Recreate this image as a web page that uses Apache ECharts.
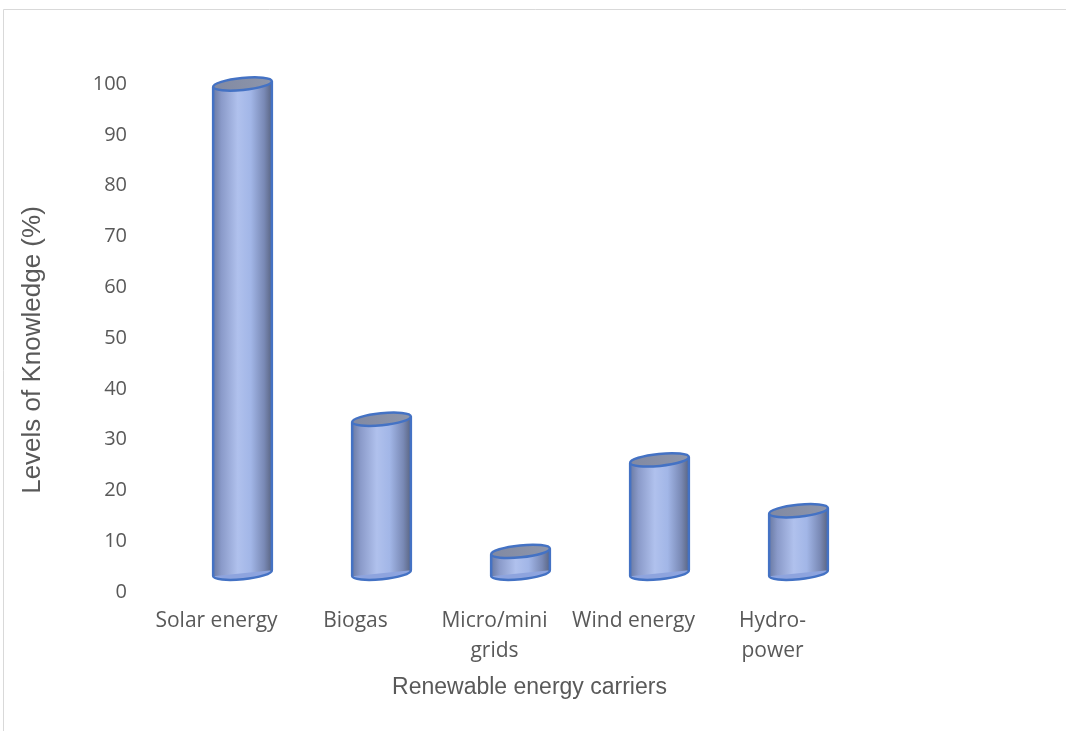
<!DOCTYPE html>
<html>
<head>
<meta charset="utf-8">
<title>Levels of Knowledge by Renewable Energy Carrier</title>
<script src="https://cdn.jsdelivr.net/npm/echarts@6/dist/echarts.min.js"></script>
<style>
  html, body { margin: 0; padding: 0; background: #ffffff; }
  #chart { width: 1066px; height: 731px; }
</style>
</head>
<body>
<div id="chart"></div>
<script>
// Renewable energy carriers and the share of respondents who know them (%)
const categories = ['Solar energy', 'Biogas', 'Micro/mini\ngrids', 'Wind energy', 'Hydro-\npower'];
const knowledge = [100, 34, 8, 26, 16];
const yMin = 0;
const yMax = 100;
const yStep = 10;

// Cylinder look: floor of the 3D box (axis units), perspective shift, radii, tilt
const FLOOR = 3.7;
const DEPTH_SHIFT = 26;
const RX = 29.5;
const RY = 6;
const TILT = 0.1;
const EDGE = '#4472c4';
const TEXT = '#595959';

const chart = echarts.init(document.getElementById('chart'), null, { renderer: 'canvas' });

function bodyFill() {
  return new echarts.graphic.LinearGradient(0, 0, 1, 0, [
    { offset: 0.00, color: '#6a7aa3' },
    { offset: 0.14, color: '#8a9ac9' },
    { offset: 0.42, color: '#b0c1ed' },
    { offset: 0.64, color: '#a2b6e7' },
    { offset: 0.87, color: '#7989b5' },
    { offset: 1.00, color: '#5a6582' }
  ]);
}

function renderCylinder(params, api) {
  const i = api.value(0);
  const v = api.value(1);
  const top = api.coord([i, v]);
  const base = api.coord([i, FLOOR]);
  const cx = top[0] + DEPTH_SHIFT;
  const dy = RX * Math.sin(TILT);
  const dx = RX * Math.cos(TILT);
  return {
    type: 'group',
    children: [
      {
        type: 'ellipse',
        shape: { cx: cx, cy: base[1], rx: RX, ry: RY },
        rotation: TILT, originX: cx, originY: base[1],
        style: { fill: '#8ea4de', stroke: EDGE, lineWidth: 2.5 }
      },
      {
        type: 'polygon',
        shape: { points: [
          [cx - dx, top[1] + dy], [cx + dx, top[1] - dy],
          [cx + dx, base[1] - dy], [cx - dx, base[1] + dy]
        ] },
        style: { fill: bodyFill() }
      },
      {
        type: 'line',
        shape: { x1: cx - dx, y1: top[1] + dy, x2: cx - dx, y2: base[1] + dy },
        style: { stroke: EDGE, lineWidth: 2.5 }
      },
      {
        type: 'line',
        shape: { x1: cx + dx, y1: top[1] - dy, x2: cx + dx, y2: base[1] - dy },
        style: { stroke: EDGE, lineWidth: 2.5 }
      },
      {
        type: 'ellipse',
        shape: { cx: cx, cy: top[1], rx: RX, ry: RY },
        rotation: TILT, originX: cx, originY: top[1],
        style: {
          fill: new echarts.graphic.LinearGradient(0, 0, 1, 0, [
            { offset: 0, color: '#8189a2' },
            { offset: 1, color: '#8e96ab' }
          ]),
          stroke: EDGE, lineWidth: 2.5
        }
      }
    ]
  };
}

chart.setOption({
  backgroundColor: '#ffffff',
  animation: false,
  graphic: [{
    type: 'rect',
    shape: { x: 3.5, y: 9.5, width: 1200, height: 900 },
    style: { fill: 'none', stroke: '#d9d9d9', lineWidth: 1 },
    silent: true
  }],
  grid: { left: 147, right: 224, top: 84, bottom: 139 },
  xAxis: {
    type: 'category',
    data: categories,
    axisLine: { show: false },
    axisTick: { show: false },
    axisLabel: {
      margin: 14,
      interval: 0,
      fontFamily: 'Open Sans',
      fontSize: 21,
      lineHeight: 30,
      color: TEXT
    },
    name: 'Renewable energy carriers',
    nameLocation: 'middle',
    nameGap: 84,
    nameTextStyle: { fontFamily: 'Liberation Sans', fontSize: 23, color: TEXT, padding: [0, 0, 0, 70] }
  },
  yAxis: {
    type: 'value',
    min: yMin,
    max: yMax,
    interval: yStep,
    splitLine: { show: false },
    axisLine: { show: false },
    axisTick: { show: false },
    axisLabel: { margin: 20, fontFamily: 'Open Sans', fontSize: 20, color: TEXT },
    name: 'Levels of Knowledge (%)',
    nameLocation: 'middle',
    nameGap: 101,
    nameTextStyle: { fontFamily: 'Liberation Sans', fontSize: 26, color: TEXT, padding: [0, 24, 0, 0] }
  },
  series: [{
    type: 'custom',
    renderItem: renderCylinder,
    data: knowledge.map(function (v, i) { return [i, v]; }),
    encode: { x: 0, y: 1 },
    clip: false
  }]
});
</script>
</body>
</html>
